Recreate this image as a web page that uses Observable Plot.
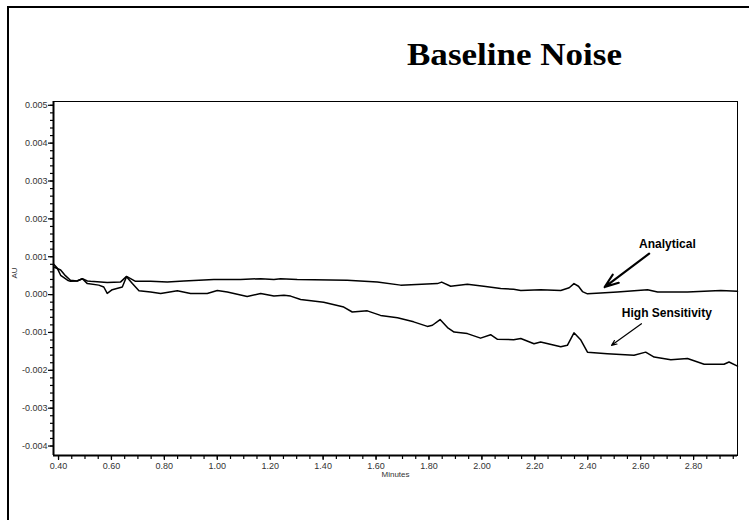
<!DOCTYPE html>
<html><head><meta charset="utf-8">
<script src="https://cdn.jsdelivr.net/npm/d3@7"></script>
<script src="https://cdn.jsdelivr.net/npm/@observablehq/plot@0.6"></script>
<style>
html,body{margin:0;padding:0;background:#fff;overflow:hidden}
#wrap{position:relative;width:749px;height:520px;overflow:hidden;background:#fff}
#border{position:absolute;left:7px;top:6px;width:800px;height:600px;border-left:2px solid #000;border-top:2px solid #000}
#title{position:absolute;left:407px;top:39px;font-family:"Liberation Serif","Times New Roman",serif;font-weight:bold;font-size:31px;line-height:1;white-space:nowrap;transform:scaleX(1.13);transform-origin:left top;color:#000}
#chart{position:absolute;left:0;top:0}
</style></head>
<body>
<div id="wrap"><div id="border"></div><div id="chart"></div><div id="title">Baseline Noise</div></div>
<script>
// ---- data ----
const analyticalMinutes = [0.382,0.408,0.426,0.445,0.470,0.490,0.509,0.521,0.584,0.634,0.657,0.691,0.748,0.811,0.874,0.987,1.088,1.164,1.214,1.239,1.302,1.491,1.605,1.693,1.832,1.848,1.882,1.945,2.007,2.071,2.120,2.147,2.222,2.298,2.330,2.348,2.365,2.380,2.399,2.449,2.512,2.626,2.664,2.777,2.903,2.966];
const analyticalAU = [0.00073,0.00065,0.00050,0.00038,0.00036,0.00042,0.00036,0.00035,0.00032,0.00033,0.00048,0.00035,0.00035,0.00033,0.00036,0.00040,0.00040,0.00042,0.00040,0.00042,0.00040,0.00038,0.00033,0.00025,0.00029,0.00033,0.00022,0.00027,0.00022,0.00016,0.00014,0.00011,0.00013,0.00011,0.00018,0.00029,0.00022,0.00008,0.00002,0.00004,0.00007,0.00013,0.00007,0.00007,0.00011,0.00009];
const hsMinutes = [0.382,0.395,0.408,0.434,0.445,0.470,0.490,0.509,0.552,0.571,0.584,0.603,0.641,0.657,0.679,0.704,0.748,0.786,0.849,0.899,0.962,1.000,1.038,1.113,1.164,1.214,1.252,1.277,1.315,1.402,1.478,1.510,1.567,1.617,1.681,1.742,1.794,1.813,1.842,1.870,1.895,1.945,1.995,2.033,2.059,2.120,2.147,2.197,2.222,2.298,2.323,2.348,2.374,2.399,2.474,2.575,2.619,2.651,2.714,2.777,2.840,2.915,2.934,2.966];
const hsAU = [0.00080,0.00070,0.00051,0.00038,0.00035,0.00036,0.00042,0.00029,0.00025,0.00020,0.00003,0.00013,0.00020,0.00047,0.00029,0.00010,0.00007,0.00003,0.00010,0.00003,0.00003,0.00011,0.00007,-0.00005,0.00003,-0.00004,-0.00002,-0.00004,-0.00013,-0.00020,-0.00033,-0.00046,-0.00043,-0.00055,-0.00061,-0.00072,-0.00084,-0.00081,-0.00066,-0.00087,-0.00099,-0.00103,-0.00115,-0.00106,-0.00118,-0.00119,-0.00116,-0.00130,-0.00125,-0.00138,-0.00134,-0.00101,-0.00120,-0.00152,-0.00156,-0.00160,-0.00152,-0.00165,-0.00172,-0.00169,-0.00184,-0.00184,-0.00178,-0.00189];
const xTickLabels = [0.40,0.60,0.80,1.00,1.20,1.40,1.60,1.80,2.00,2.20,2.40,2.60,2.80];
const yTickLabels = [0.005,0.004,0.003,0.002,0.001,0.000,-0.001,-0.002,-0.003,-0.004];
const labelNames = ["Analytical","High Sensitivity"];
const labelMinutes = [2.701,2.699];
const labelAU = [0.00133,-0.00050];
const arrowFromMinutes = [2.632,2.603];
const arrowFromAU = [0.00108,-0.00077];
const arrowToMinutes = [2.464,2.490];
const arrowToAU = [0.00020,-0.00134];

// ---- build tables ----
const analytical = analyticalMinutes.map((m,i)=>({m, v: analyticalAU[i]}));
const hs = hsMinutes.map((m,i)=>({m, v: hsAU[i]}));
const labels = labelNames.map((t,i)=>({t, m: labelMinutes[i], v: labelAU[i]}));
const arrows = labelNames.map((t,i)=>({x1: arrowFromMinutes[i], y1: arrowFromAU[i], x2: arrowToMinutes[i], y2: arrowToAU[i]}));
const xMin = 0.381, xMax = 2.966, yMin = -0.00425, yMax = 0.0051;
const xMinor = d3.range(0.40, 2.96, 0.05);
const yMinor = d3.range(-0.0040, 0.00501, 0.0002);
const font = "Liberation Sans, Arial, sans-serif";

const chart = Plot.plot({
  width: 749, height: 520,
  marginLeft: 53, marginTop: 101, marginRight: 12, marginBottom: 65,
  x: {domain: [xMin, xMax]},
  y: {domain: [yMin, yMax]},
  style: {fontFamily: font, fontSize: "9px", color: "#222", background: "transparent"},
  marks: [
    Plot.frame({stroke: "#000", strokeWidth: 1}),
    Plot.ruleX([xMin], {stroke: "#000", strokeWidth: 2}),
    Plot.ruleY([yMin], {stroke: "#000", strokeWidth: 2}),
    Plot.axisX({ticks: xMinor, tickSize: 4, tickFormat: () => "", label: null, stroke: "#000", strokeWidth: 1.2}),
    Plot.axisX({ticks: xTickLabels, tickSize: 5, tickPadding: 2, tickFormat: d => d.toFixed(2), label: null, stroke: "#000", strokeWidth: 1.2, fill: "#333", fontSize: 9}),
    Plot.axisY({ticks: yMinor, tickSize: 3, tickFormat: () => "", label: null, stroke: "#000", strokeWidth: 1.2}),
    Plot.axisY({ticks: yTickLabels, tickSize: 5, tickPadding: 1, tickFormat: d => d.toFixed(3), label: null, stroke: "#000", strokeWidth: 1.2, fill: "#333", fontSize: 9}),
    Plot.text(["AU"], {text: d => d, frameAnchor: "left", dx: -39, rotate: -90, fontSize: 8, fill: "#333"}),
    Plot.text(["Minutes"], {text: d => d, frameAnchor: "bottom", dy: 21, fontSize: 8, fill: "#333"}),
    Plot.line(hs, {x: "m", y: "v", stroke: "#000", strokeWidth: 1.5}),
    Plot.line(analytical, {x: "m", y: "v", stroke: "#000", strokeWidth: 1.5}),
    Plot.arrow(arrows.slice(0,1), {x1: "x1", y1: "y1", x2: "x2", y2: "y2", stroke: "#000", strokeWidth: 2.2, headLength: 10, headAngle: 40}),
    Plot.arrow(arrows.slice(1), {x1: "x1", y1: "y1", x2: "x2", y2: "y2", stroke: "#000", strokeWidth: 1.2, headLength: 7, headAngle: 45}),
    Plot.text(labels, {x: "m", y: "v", text: "t", fontSize: 12, fontWeight: "bold", fill: "#000", fontFamily: font})
  ]
});
document.getElementById("chart").appendChild(chart);
</script>
</body></html>
